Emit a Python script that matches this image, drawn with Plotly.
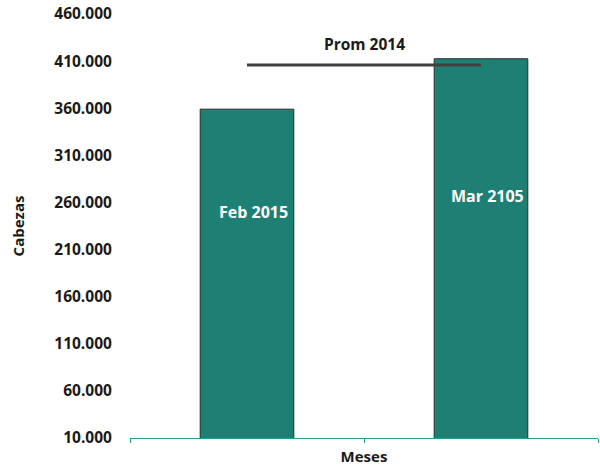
import plotly.graph_objects as go

categories = ["Feb 2015", "Mar 2105"]
values = [359000, 412500]
prom_label = "Prom 2014"
prom_value = 406000
label_y = [250000, 267000]
y_ticks = [10000, 60000, 110000, 160000, 210000, 260000, 310000, 360000, 410000, 460000]

bar_color = "#1E8074"
axis_color = "#2A9D8C"
font_family = "'Open Sans', Lato, sans-serif"

fig = go.Figure()
fig.add_trace(go.Bar(
    x=categories, y=values,
    marker=dict(color=bar_color, line=dict(color="#2b2b2b", width=1)),
    showlegend=False, hoverinfo="skip"
))
fig.add_trace(go.Scatter(
    x=categories, y=[prom_value, prom_value], mode="lines",
    line=dict(color="#404040", width=3), showlegend=False, hoverinfo="skip"
))
for c, ly in zip(categories, label_y):
    fig.add_annotation(x=c, y=ly, text="<b>%s</b>" % c, showarrow=False, xshift=6,
                       font=dict(color="white", size=16, family=font_family))
fig.add_annotation(x=0.5, y=prom_value, xref="x", yref="y", text="<b>%s</b>" % prom_label,
                   showarrow=False, yshift=21,
                   font=dict(color="#1a1a1a", size=15.5, family=font_family))

fig.update_layout(
    width=600, height=468,
    margin=dict(l=130, r=2, t=14, b=30),
    plot_bgcolor="white", paper_bgcolor="white",
    bargap=0.6,
    separators=",.",
    font=dict(family=font_family, size=15, color="#1a1a1a"),
    xaxis=dict(
        showticklabels=False, tickson="boundaries", ticks="outside", ticklen=4,
        tickcolor=axis_color, showline=True, linecolor=axis_color, linewidth=1,
        showgrid=False, zeroline=False,
        title=dict(text="<b>Meses</b>", standoff=13, font=dict(size=15)),
    ),
    yaxis=dict(
        range=[10000, 460000], tickvals=y_ticks, tickformat=",d",
        tickfont=dict(size=15.5, weight="bold"), ticks="outside", ticklen=14,
        tickcolor="rgba(0,0,0,0)",
        showgrid=False, zeroline=False, showline=False,
        title=dict(text="<b>Cabezas</b>", standoff=26, font=dict(size=15)),
    ),
)
fig.write_html("out.html", post_script="document.body.style.margin='0';",
               config={"displayModeBar": False})
